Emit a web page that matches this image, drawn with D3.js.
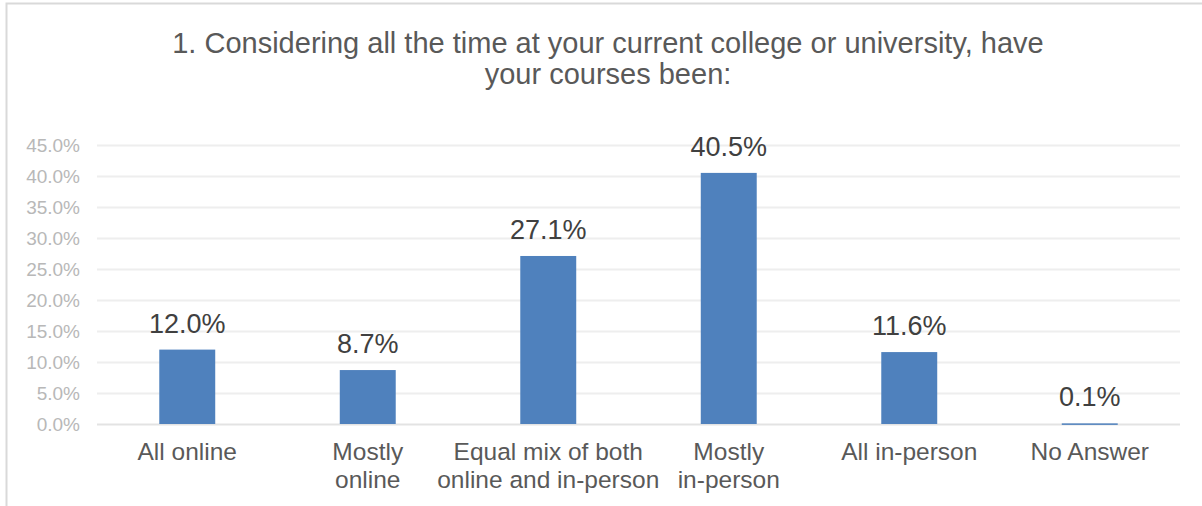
<!DOCTYPE html>
<html>
<head>
<meta charset="utf-8">
<script src="https://cdn.jsdelivr.net/npm/d3@7"></script>
<style>
  body { margin: 0; background: #fff; }
  svg { display: block; font-family: "Liberation Sans", Arial, sans-serif; }
</style>
</head>
<body>
<svg id="chart"></svg>
<script>
var width = 1202
var height = 506

// data
var categories = [
  ["All online"],
  ["Mostly", "online"],
  ["Equal mix of both", "online and in-person"],
  ["Mostly", "in-person"],
  ["All in-person"],
  ["No Answer"]
]
var values = [12.0, 8.7, 27.1, 40.5, 11.6, 0.1]
var yTicks = [0, 5, 10, 15, 20, 25, 30, 35, 40, 45]
var titleLines = ["1. Considering all the time at your current college or university, have", "your courses been:"]

var margin = {left: 97, right: 22, top: 145, bottom: 82}

var svg = d3.select("#chart")
  .attr("width", width)
  .attr("height", height)

// outer frame
svg.append("rect")
  .attr("x", 6.5).attr("y", 3.5)
  .attr("width", width + 10).attr("height", height + 10)
  .attr("fill", "none")
  .attr("stroke", "#d9d9d9")
  .attr("stroke-width", 2)

var x = d3.scaleBand()
  .domain(d3.range(categories.length))
  .range([margin.left, width - margin.right])
  .paddingInner(0.69)
  .paddingOuter(0.345)

var y = d3.scaleLinear()
  .domain([0, 45])
  .range([height - margin.bottom, margin.top])

// gridlines
svg.append("g")
  .selectAll("line")
  .data(yTicks)
  .enter()
  .append("line")
    .attr("x1", margin.left)
    .attr("x2", width - margin.right)
    .attr("y1", d => Math.round(y(d)) + 0.5)
    .attr("y2", d => Math.round(y(d)) + 0.5)
    .attr("stroke", d => d === 0 ? "#e3e3e3" : "#eeeeee")
    .attr("stroke-width", 2)

// y tick labels
svg.append("g")
  .selectAll("text")
  .data(yTicks)
  .enter()
  .append("text")
    .attr("x", 80)
    .attr("y", d => y(d))
    .attr("dy", "0.35em")
    .attr("text-anchor", "end")
    .attr("font-size", 19)
    .attr("fill", "#b8b8b8")
    .text(d => d.toFixed(1) + "%")

// bars
svg.append("g")
  .selectAll("rect")
  .data(values)
  .enter()
  .append("rect")
    .attr("x", (d, i) => x(i))
    .attr("y", d => y(d))
    .attr("width", x.bandwidth())
    .attr("height", d => Math.max(1.5, y(0) - y(d)))
    .attr("fill", "#4f81bd")

// value labels
svg.append("g")
  .selectAll("text")
  .data(values)
  .enter()
  .append("text")
    .attr("x", (d, i) => x(i) + x.bandwidth() / 2)
    .attr("y", d => y(d) - 17)
    .attr("text-anchor", "middle")
    .attr("font-size", 27)
    .attr("fill", "#404040")
    .text(d => d.toFixed(1) + "%")

// category labels
var catG = svg.append("g")
  .selectAll("text")
  .data(categories)
  .enter()
  .append("text")
    .attr("x", (d, i) => x(i) + x.bandwidth() / 2)
    .attr("y", 460)
    .attr("text-anchor", "middle")
    .attr("font-size", 24.5)
    .attr("fill", "#595959")

catG.selectAll("tspan")
  .data(d => d)
  .enter()
  .append("tspan")
    .attr("x", function() { return d3.select(this.parentNode).attr("x") })
    .attr("dy", (d, i) => i === 0 ? 0 : 28)
    .text(d => d)

// title
svg.append("g")
  .selectAll("text")
  .data(titleLines)
  .enter()
  .append("text")
    .attr("x", 608)
    .attr("y", (d, i) => 53 + i * 31)
    .attr("text-anchor", "middle")
    .attr("font-size", 29)
    .attr("fill", "#595959")
    .text(d => d)
</script>
</body>
</html>
